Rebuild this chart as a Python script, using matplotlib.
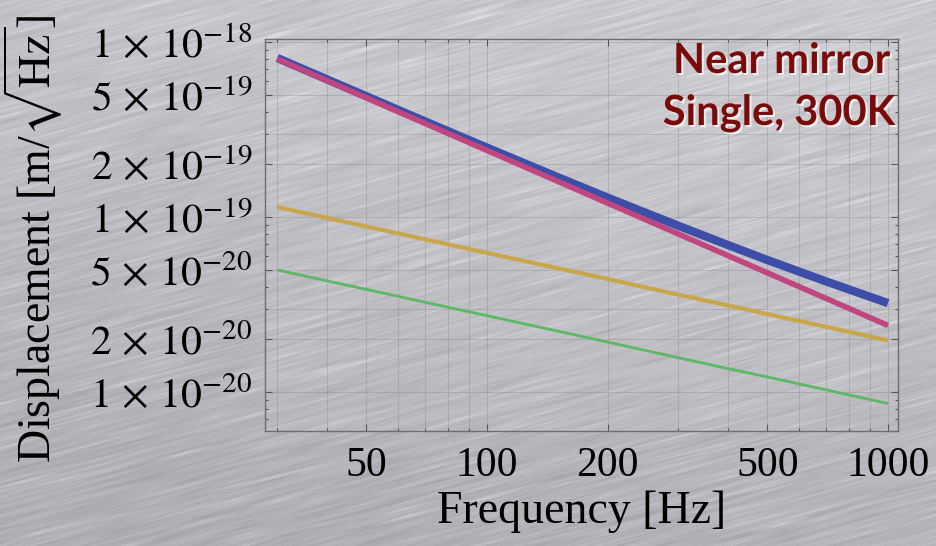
import numpy as np
import matplotlib
matplotlib.use("Agg")
from matplotlib import pyplot as plt
from matplotlib import patheffects as pe
from matplotlib.ticker import FixedLocator, NullFormatter, LogLocator

# frequency grid [Hz]
freq_hz = [30, 40, 50, 70, 100, 150, 200, 300, 400, 500, 700, 1000]
# displacement noise [m/sqrt(Hz)]
total_disp = [8.10e-19, 6.10e-19, 4.90e-19, 3.52e-19, 2.49e-19, 1.69e-19,
              1.29e-19, 8.91e-20, 6.90e-20, 5.68e-20, 4.29e-20, 3.22e-20]
pink_disp = [8.0e-19, 6.0e-19, 4.8e-19, 3.43e-19, 2.4e-19, 1.6e-19,
             1.2e-19, 8.0e-20, 6.0e-20, 4.8e-20, 3.43e-20, 2.4e-20]
yellow_disp = [1.14e-19, 9.87e-20, 8.83e-20, 7.46e-20, 6.24e-20, 5.10e-20,
               4.42e-20, 3.60e-20, 3.12e-20, 2.79e-20, 2.36e-20, 1.97e-20]
green_disp = [4.98e-20, 4.31e-20, 3.86e-20, 3.26e-20, 2.73e-20, 2.23e-20,
              1.93e-20, 1.57e-20, 1.36e-20, 1.22e-20, 1.03e-20, 8.6e-21]

x_ticks = [50, 100, 200, 500, 1000]
x_tick_labels = ["50", "100", "200", "500", "1000"]
y_ticks = [1e-20, 2e-20, 5e-20, 1e-19, 2e-19, 5e-19, 1e-18]
y_tick_labels = [r"$1\,\times\,10^{-20}$", r"$2\,\times\,10^{-20}$", r"$5\,\times\,10^{-20}$",
                 r"$1\,\times\,10^{-19}$", r"$2\,\times\,10^{-19}$", r"$5\,\times\,10^{-19}$",
                 r"$1\,\times\,10^{-18}$"]

plt.rcParams["font.family"] = ["Liberation Serif", "DejaVu Serif"]
plt.rcParams["mathtext.fontset"] = "stix"


def brushed_metal(h, w, seed=7):
    # grey plate with thin streaks running slightly uphill
    rng = np.random.default_rng(seed)
    ang = np.deg2rad(15)
    yy, xx = np.mgrid[0:h, 0:w].astype(float)
    v = xx * np.sin(ang) + yy * np.cos(ang)
    u = xx * np.cos(ang) - yy * np.sin(ang)
    u = u - u.min()
    step = 40.0
    nv = int(v.max()) + 3
    nu = int(u.max() / step) + 3
    g = rng.normal(size=(nv, nu))
    g = 0.5 * g + 0.25 * np.roll(g, 1, 0) + 0.25 * np.roll(g, -1, 0)
    hi = (rng.random((nv, nu)) > 0.92).astype(float)
    hi = 0.6 * hi + 0.2 * np.roll(hi, 1, 0) + 0.2 * np.roll(hi, -1, 0)
    vi = v.astype(int)
    uf = u / step
    u0 = uf.astype(int)
    t = uf - u0
    noise = g[vi, u0] * (1 - t) + g[vi, u0 + 1] * t
    glint = hi[vi, u0] * (1 - t) + hi[vi, u0 + 1] * t
    lum = 0.77 - 0.09 * yy / h + 0.03 * xx / w
    lum = lum + 0.03 * noise + 0.08 * glint
    rgb = np.stack([lum * 0.995, lum * 0.99, lum * 1.02], -1)
    return np.clip(rgb, 0, 1)


W, H = 937, 546
fig = plt.figure(figsize=(W / 100, H / 100), dpi=100)

bg = fig.add_axes([0, 0, 1, 1], zorder=-5)
bg.imshow(brushed_metal(H, W), aspect="auto", interpolation="bilinear")
bg.axis("off")

ax = fig.add_axes([265 / W, 1 - 431 / H, (898 - 265) / W, (431 - 39) / H])
ax.patch.set_facecolor((1, 1, 1, 0.06))
ax.set_xscale("log")
ax.set_yscale("log")

ax.plot(freq_hz, total_disp, color="#3d4ea8", lw=6, solid_capstyle="butt")
ax.plot(freq_hz, pink_disp, color="#c0467f", lw=4, solid_capstyle="butt")
ax.plot(freq_hz, yellow_disp, color="#c9a54c", lw=3, solid_capstyle="butt")
ax.plot(freq_hz, green_disp, color="#5cb864", lw=2, solid_capstyle="butt")

ax.set_xlim(27.95, 1059)
ax.set_ylim(5.99e-21, 1.04e-18)

ax.xaxis.set_major_locator(FixedLocator(x_ticks))
ax.set_xticklabels(x_tick_labels)
ax.xaxis.set_minor_locator(LogLocator(subs=np.arange(1, 10)))
ax.xaxis.set_minor_formatter(NullFormatter())
ax.yaxis.set_major_locator(FixedLocator(y_ticks))
ax.set_yticklabels(y_tick_labels)
ax.yaxis.set_minor_locator(LogLocator(subs=np.arange(1, 10)))
ax.yaxis.set_minor_formatter(NullFormatter())

ax.tick_params(which="both", direction="in", top=True, right=True,
               color="#555555", width=0.8)
ax.tick_params(which="major", length=5, labelsize=30, pad=9)
ax.tick_params(which="minor", length=2.5)
ax.tick_params(axis="x", which="major", pad=11)

# grid at every integer multiple in x, at 1,2,3,5 in y
for f in [k * 10 ** e for e in (1, 2) for k in range(1, 10)] + [1000]:
    ax.axvline(f, color="#808080", lw=0.5, alpha=0.45, zorder=0)
for d in [k * 10.0 ** e for e in (-21, -20, -19, -18) for k in (1, 2, 3, 5)]:
    ax.axhline(d, color="#808080", lw=0.5, alpha=0.45, zorder=0)

for s in ax.spines.values():
    s.set_color("#6e6e6e")
    s.set_linewidth(1.0)

ax.set_xlabel("Frequency [Hz]", fontsize=33, labelpad=4)
ax.set_ylabel(r"Displacement [m/$\sqrt{\mathrm{Hz}}$]", fontsize=33)
ax.yaxis.set_label_coords(-200 / (898 - 265), 0.5 - 4 / (431 - 39))

halo = [pe.SimplePatchShadow(offset=(1.5, -1.5), shadow_rgbFace="white", alpha=0.7),
        pe.Normal()]
fig.text(890 / W, 1 - 73 / H, "Near mirror", ha="right", va="baseline",
         fontsize=30, fontweight="bold", family="Lato", color="#7a0b0b",
         path_effects=halo)
fig.text(895 / W, 1 - 125 / H, "Single, 300K", ha="right", va="baseline",
         fontsize=30, fontweight="bold", family="Lato", color="#7a0b0b",
         path_effects=halo)

fig.savefig("out.png", dpi=100)
